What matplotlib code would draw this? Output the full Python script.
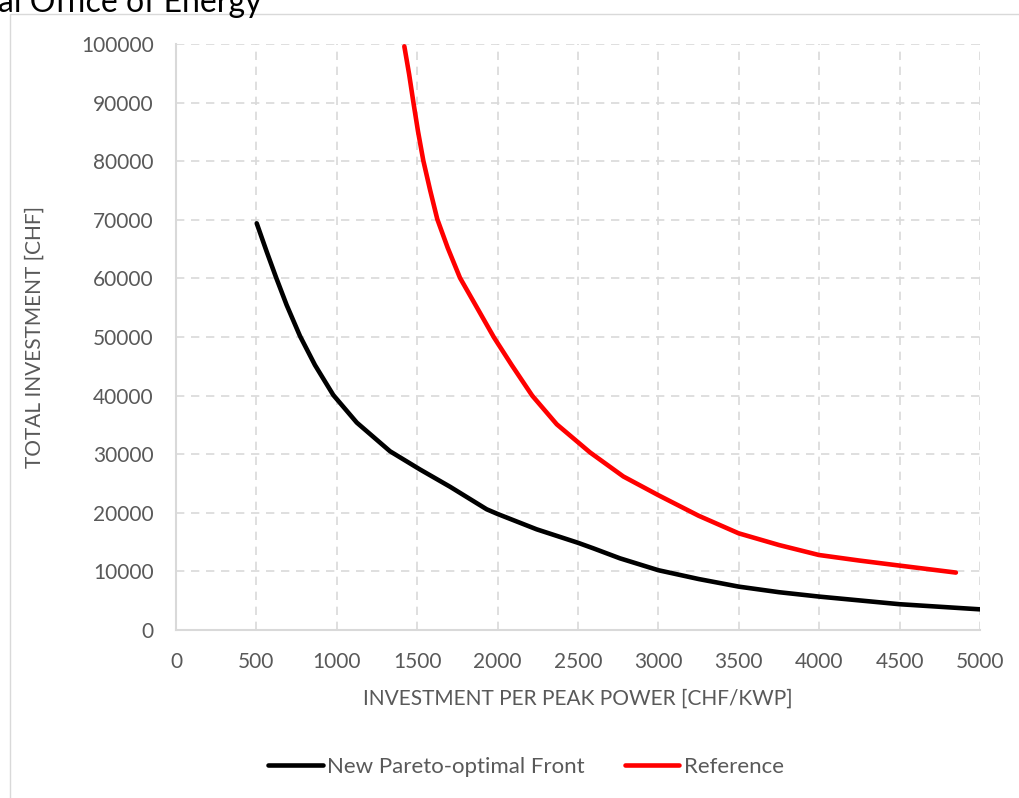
import matplotlib.pyplot as plt
from matplotlib.patches import Rectangle

# black curve - new Pareto-optimal front
front_x = [502, 564, 622, 688, 771, 864, 978, 1124, 1331, 1517, 1704, 1932,
           2000, 2243, 2498, 2595, 2761, 3000, 3250, 3500, 3750, 4000, 4500, 4998]
front_y = [69400, 64560, 60190, 55460, 50170, 45220, 40100, 35400, 30500, 27400,
           24450, 20600, 19800, 17180, 14900, 13940, 12230, 10200, 8700, 7400,
           6450, 5700, 4400, 3530]

# red curve - reference
ref_x = [1420, 1450, 1476, 1505, 1538, 1580, 1625, 1690, 1766, 1870, 1978, 2088,
         2215, 2368, 2575, 2782, 3000, 3250, 3499, 3750, 3998, 4250, 4497, 4850]
ref_y = [99600, 94800, 90100, 85100, 80100, 75100, 70100, 65200, 60100, 55100,
         49900, 45200, 40000, 35100, 30300, 26200, 23000, 19500, 16500, 14500,
         12800, 11850, 11000, 9800]

x_ticks = list(range(0, 5001, 500))
y_ticks = list(range(0, 100001, 10000))

plt.rcParams['font.family'] = ['Lato', 'DejaVu Sans']
txt = '#595959'

fig = plt.figure(figsize=(10.19, 7.98), dpi=100)
ax = fig.add_axes([176 / 1019, 1 - 630 / 798, (980 - 176) / 1019, (630 - 44) / 798])

ax.plot(front_x, front_y, color='black', lw=3.3, solid_capstyle='round',
        solid_joinstyle='round', label='New Pareto-optimal Front')
ax.plot(ref_x, ref_y, color='#ff0000', lw=3.3, solid_capstyle='round',
        solid_joinstyle='round', label='Reference')

ax.set_xlim(0, 5000)
ax.set_ylim(0, 100000)
ax.set_xticks(x_ticks)
ax.set_yticks(y_ticks)
ax.tick_params(length=0, labelsize=15, colors=txt)
ax.tick_params(axis='x', pad=16)
ax.tick_params(axis='y', pad=16)
ax.grid(True, color='#d9d9d9', ls=(0, (5, 4)), lw=1.2)
ax.set_axisbelow(True)
for s in ['top', 'right']:
    ax.spines[s].set_visible(False)
for s in ['left', 'bottom']:
    ax.spines[s].set_color('#d9d9d9')
    ax.spines[s].set_linewidth(1.5)

ax.set_xlabel('INVESTMENT PER PEAK POWER [CHF/KWP]', fontsize=15, color=txt, labelpad=12)
ax.set_ylabel('TOTAL INVESTMENT [CHF]', fontsize=15, color=txt, labelpad=26)

leg = fig.legend(loc='center', bbox_to_anchor=(526 / 1019, 1 - 767 / 798), ncol=2,
                 frameon=False, fontsize=16, handlelength=2.45, handletextpad=0.2,
                 columnspacing=1.8)
for t in leg.get_texts():
    t.set_color(txt)

# chart area border and clipped title
fig.patches.append(Rectangle((10 / 1019, -0.1), 1.2, 1 - 14 / 798 + 0.1,
                             transform=fig.transFigure, fill=False,
                             edgecolor='#d9d9d9', lw=1))
fig.text(-2 / 1019, 1 - 3 / 798, 'al Office of Energy', fontsize=23,
         color='black', va='center', ha='left')

fig.savefig('out.png', dpi=100)
